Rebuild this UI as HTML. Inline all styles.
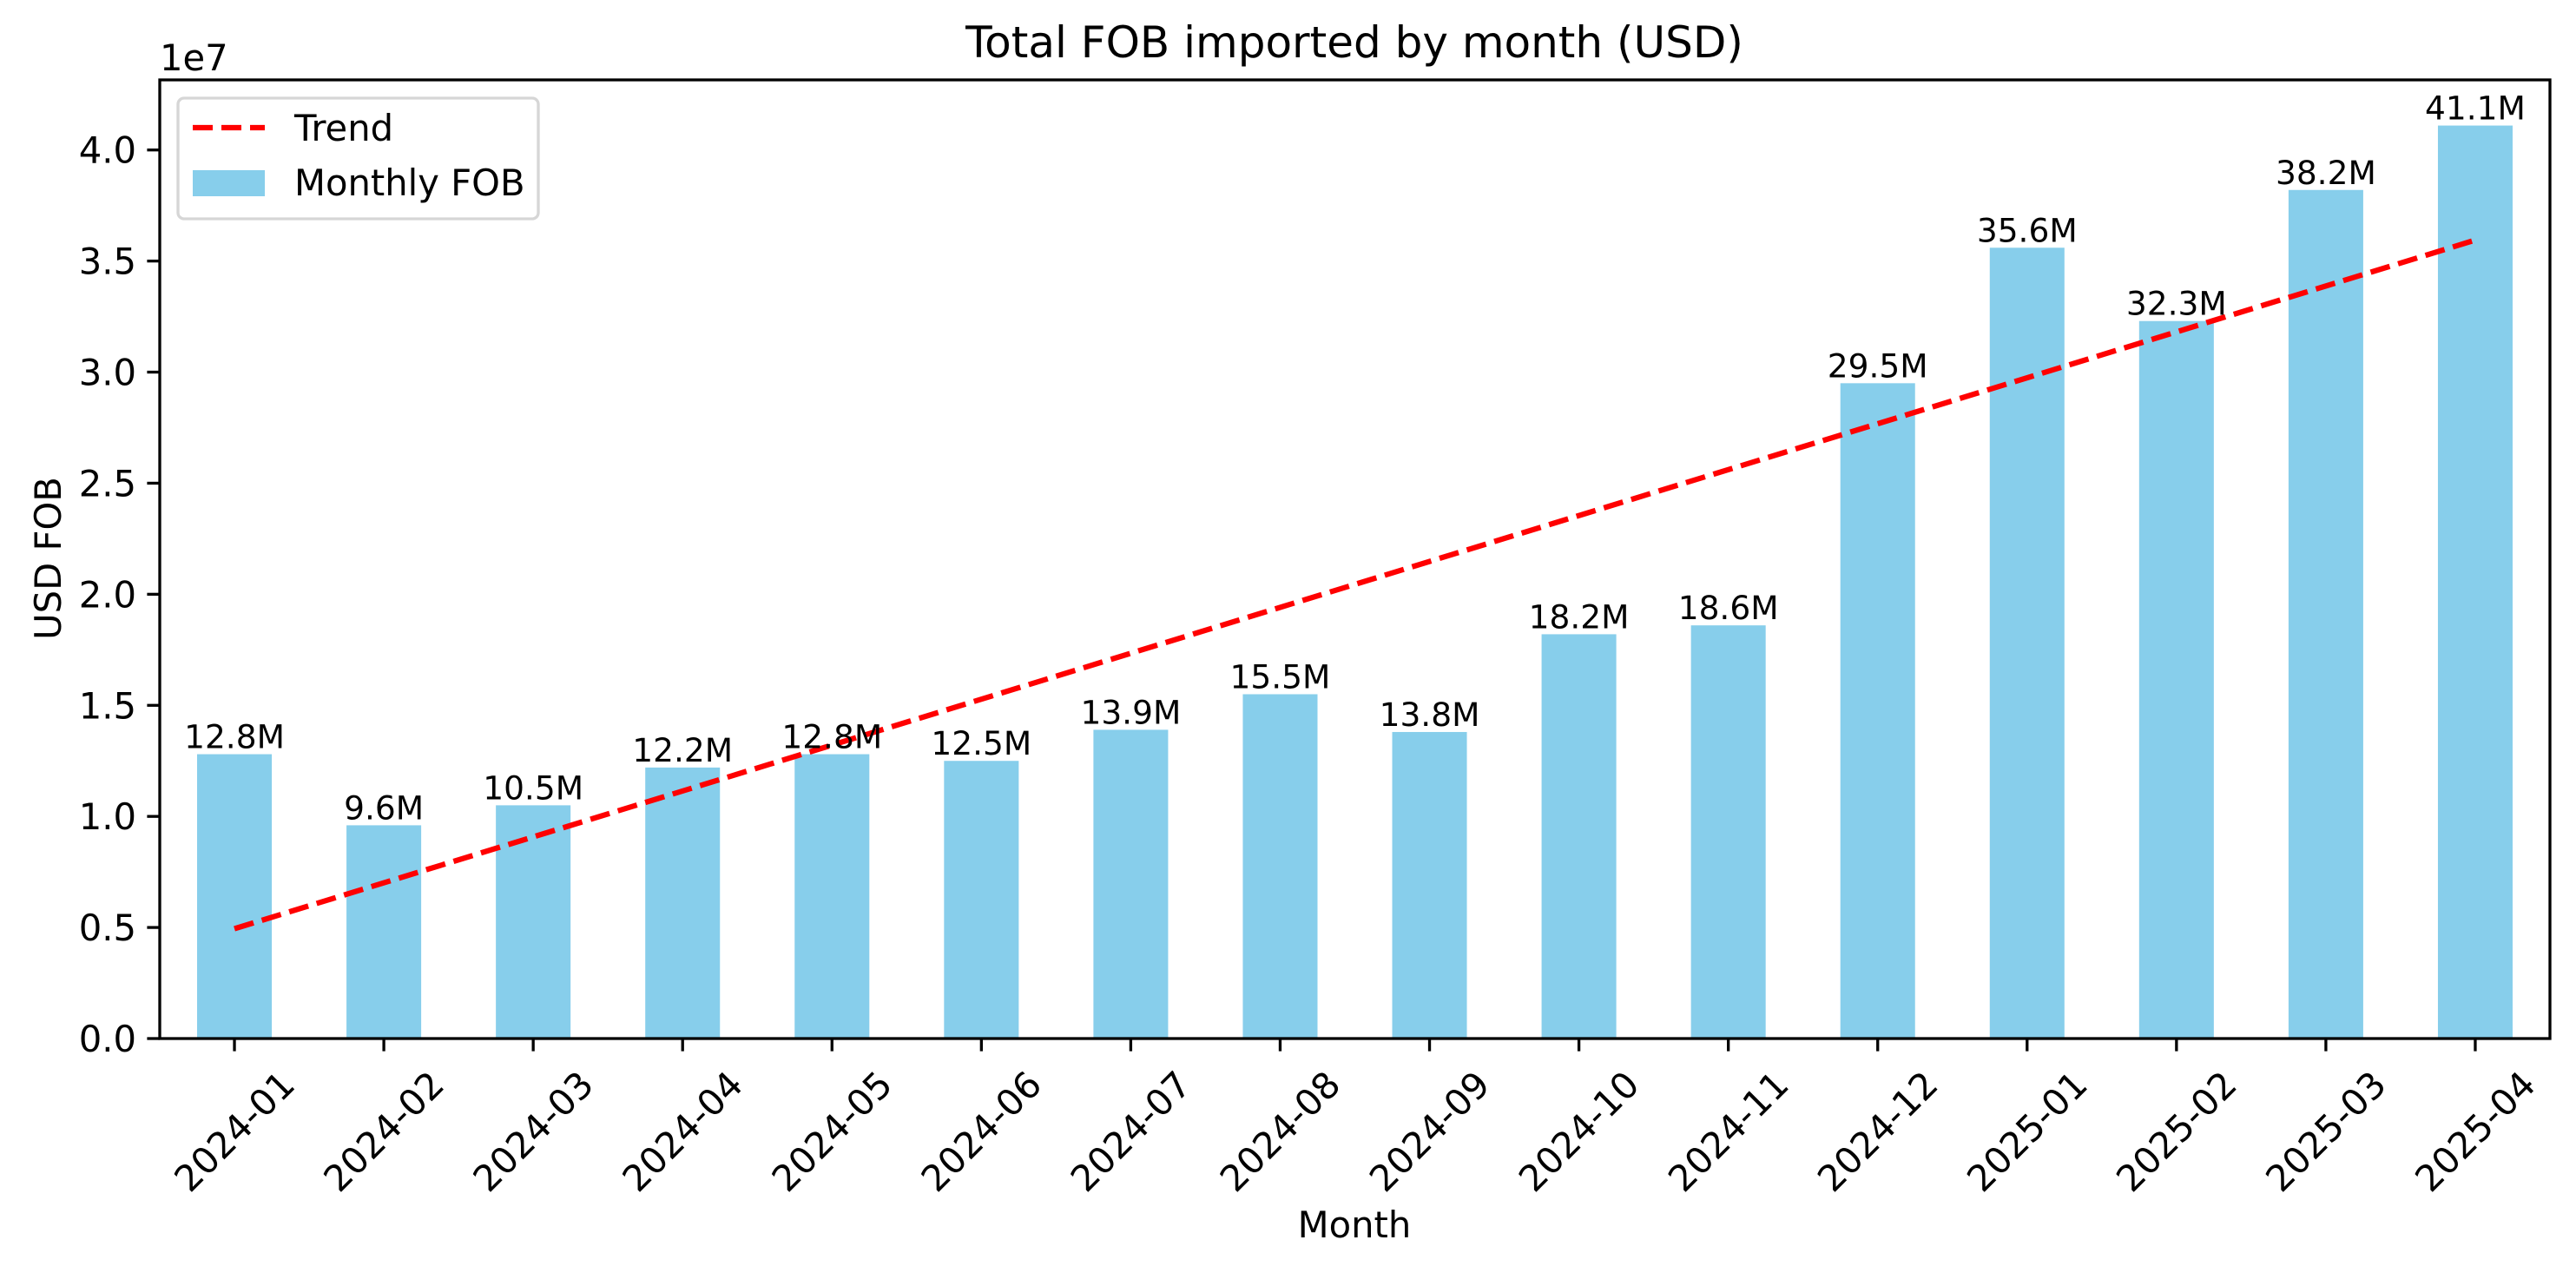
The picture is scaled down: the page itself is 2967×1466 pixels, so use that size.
<!DOCTYPE html>
<html><head><meta charset="utf-8"><style>
html,body{margin:0;padding:0;background:#fff;}
svg{display:block;font-family:"DejaVu Sans","Liberation Sans",sans-serif;}
</style></head><body>
<svg id="chart" width="2967" height="1466" viewBox="0 0 2967 1466" xmlns="http://www.w3.org/2000/svg">
<rect width="2967" height="1466" fill="#fff"/>
<g id="bars"></g>
<g id="trend"></g>
<g id="labels"></g>
<g id="axes"></g>
<text x="1560" y="66" font-size="50" text-anchor="middle">Total FOB imported by month (USD)</text>
<text x="184" y="81" font-size="41.7">1e7</text>
<text transform="translate(70,643) rotate(-90)" font-size="41.7" text-anchor="middle">USD FOB</text>
<text x="1560" y="1425" font-size="41.7" text-anchor="middle">Month</text>
<g>
<rect x="205" y="113" width="415" height="139" rx="7" fill="#fff" fill-opacity="0.8" stroke="#d6d6d6" stroke-width="3.3"/>
<line x1="222" y1="147" x2="305" y2="147" stroke="red" stroke-width="6.25" stroke-dasharray="23,10"/>
<text x="339" y="162" font-size="41.7">Trend</text>
<rect x="222" y="196" width="83" height="30" fill="#87CEEB"/>
<text x="339" y="225" font-size="41.7">Monthly FOB</text>
</g>
</svg>
<script>
const categories = ["2024-01","2024-02","2024-03","2024-04","2024-05","2024-06","2024-07","2024-08","2024-09","2024-10","2024-11","2024-12","2025-01","2025-02","2025-03","2025-04"];
const fobValues = [12.8e6,9.6e6,10.5e6,12.2e6,12.8e6,12.5e6,13.9e6,15.5e6,13.8e6,18.2e6,18.6e6,29.5e6,35.6e6,32.3e6,38.2e6,41.1e6];
const valueLabels = ["12.8M","9.6M","10.5M","12.2M","12.8M","12.5M","13.9M","15.5M","13.8M","18.2M","18.6M","29.5M","35.6M","32.3M","38.2M","41.1M"];
const yTicks = [0,0.5e7,1.0e7,1.5e7,2.0e7,2.5e7,3.0e7,3.5e7,4.0e7];
const yTickLabels = ["0.0","0.5","1.0","1.5","2.0","2.5","3.0","3.5","4.0"];

const NS="http://www.w3.org/2000/svg";
const L=184,R=2937,T=92,B=1196;
const yMax=Math.max(...fobValues)*1.05;
const n=categories.length;
const step=(R-L)/n;
function xPos(i){return L+step*(i+0.5);}
function yPos(v){return B-(v/yMax)*(B-T);}
function mk(tag,attrs,parent){const e=document.createElementNS(NS,tag);for(const k in attrs)e.setAttribute(k,attrs[k]);parent.appendChild(e);return e;}

const gb=document.getElementById('bars'),gl=document.getElementById('labels'),gt=document.getElementById('trend'),ga=document.getElementById('axes');
fobValues.forEach((v,i)=>{
  const w=step*0.5;
  const r=mk('rect',{x:xPos(i)-w/2,y:yPos(v),width:w,height:B-yPos(v),fill:'#87CEEB'},gb);
  
  
  const t=mk('text',{x:xPos(i),y:yPos(v)-7,'font-size':37.5,'text-anchor':'middle'},gl);
  t.textContent=valueLabels[i];
  
  
});
// linear regression trend
let sx=0,sy=0,sxx=0,sxy=0;
fobValues.forEach((v,i)=>{sx+=i;sy+=v;sxx+=i*i;sxy+=i*v;});
const slope=(n*sxy-sx*sy)/(n*sxx-sx*sx),icpt=(sy-slope*sx)/n;
const tl=mk('line',{x1:xPos(0),y1:yPos(icpt),x2:xPos(n-1),y2:yPos(icpt+slope*(n-1)),stroke:'red','stroke-width':6.25,'stroke-dasharray':'23,10'},gt);



// axes
const frame=mk('rect',{x:L,y:T,width:R-L,height:B-T,fill:'none',stroke:'#000','stroke-width':3.3},ga);


yTicks.forEach((v,i)=>{
  const y=yPos(v);
  const tk=mk('line',{x1:L-14.6,y1:y,x2:L,y2:y,stroke:'#000','stroke-width':3.3},ga);
  
  
  const t=mk('text',{x:L-27,y:y+15,'font-size':41.7,'text-anchor':'end'},ga);
  t.textContent=yTickLabels[i];
  
  
});
categories.forEach((c,i)=>{
  const x=xPos(i);
  const tk=mk('line',{x1:x,y1:B,x2:x,y2:B+14.6,stroke:'#000','stroke-width':3.3},ga);
  
  
  const t=mk('text',{transform:'translate('+x+','+(B+29+78)+') rotate(-45)','font-size':41.7,'text-anchor':'middle','dominant-baseline':'central'},ga);
  t.textContent=c;
  
  
});
</script>
</body></html>
